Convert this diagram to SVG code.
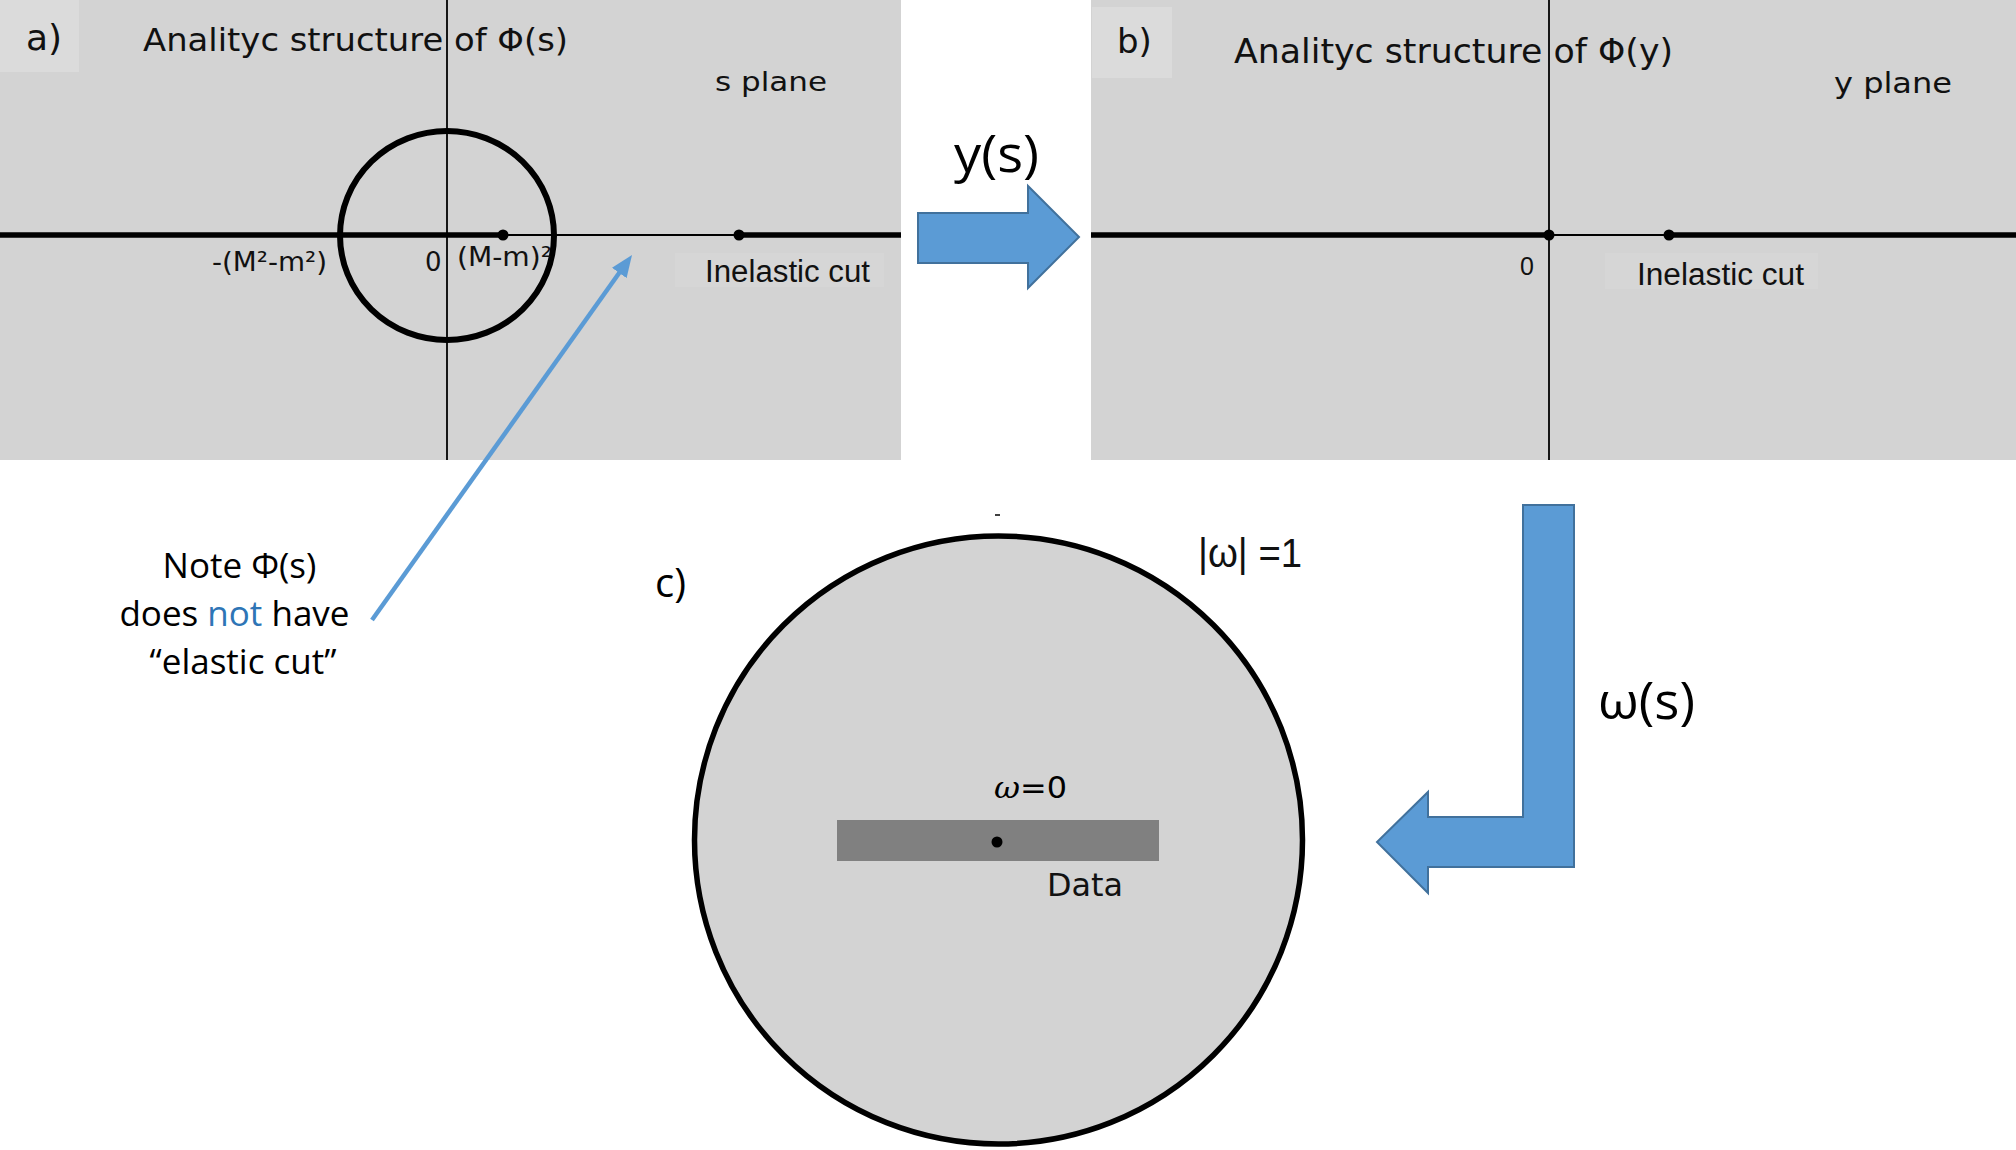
<svg xmlns="http://www.w3.org/2000/svg" width="2016" height="1150" viewBox="0 0 2016 1150">
<defs>
<style>
.panel{fill:#d3d3d3}
.lbox{fill:#dbdbdb}
.hl{fill:#d6d6d6}
.thin{stroke:#000;stroke-width:1.8;fill:none}
.thick{stroke:#000;stroke-width:5.5;fill:none}
.dot{fill:#000}
.dv{font-family:"DejaVu Sans",sans-serif;fill:#111}
.ar{font-family:"Liberation Sans",Arial,sans-serif;fill:#111}
.os{font-family:"Open Sans","Liberation Sans",sans-serif;fill:#000}
.block{fill:#5b9bd5;stroke:#41719c;stroke-width:2}
</style>
<marker id="bluehead" markerUnits="userSpaceOnUse" markerWidth="22" markerHeight="18" viewBox="0 0 22 18" refX="2" refY="9" orient="auto">
<path d="M0,0 L22,9 L0,18 z" fill="#5b9bd5"/>
</marker>
</defs>
<rect width="2016" height="1150" fill="#fff"/>

<g id="panel-a">
<rect class="panel" x="0" y="0" width="901" height="460"/>
<rect class="lbox" x="0" y="0" width="79" height="72"/>
<rect class="hl" x="675" y="253" width="209" height="34"/>
<text class="dv" x="26" y="50" font-size="36">a)</text>
<text class="dv" x="143" y="51" font-size="32" textLength="425" lengthAdjust="spacingAndGlyphs">Analityc structure of Φ(s)</text>
<text class="dv" x="715" y="91" font-size="27" textLength="112" lengthAdjust="spacingAndGlyphs">s plane</text>
<line class="thin" x1="447" y1="0" x2="447" y2="460"/>
<line class="thick" x1="0" y1="235" x2="503" y2="235"/>
<line class="thin" x1="503" y1="235" x2="739" y2="235"/>
<line class="thick" x1="739" y1="235" x2="901" y2="235"/>
<ellipse cx="447" cy="235.5" rx="107" ry="104.5" fill="none" stroke="#000" stroke-width="6"/>
<circle class="dot" cx="503" cy="235" r="5.5"/>
<circle class="dot" cx="739" cy="235" r="5.5"/>
<text class="dv" x="212" y="271" font-size="26" textLength="115" lengthAdjust="spacingAndGlyphs">-(M²-m²)</text>
<text class="dv" x="425" y="271" font-size="26">0</text>
<text class="dv" x="457" y="266" font-size="26" textLength="95" lengthAdjust="spacingAndGlyphs">(M-m)²</text>
<text class="ar" x="705" y="282" font-size="31" textLength="165" lengthAdjust="spacingAndGlyphs">Inelastic cut</text>
</g>

<g id="panel-b">
<rect class="panel" x="1091" y="0" width="925" height="460"/>
<rect class="lbox" x="1092" y="7" width="80" height="71"/>
<rect class="hl" x="1605" y="253" width="213" height="36"/>
<text class="dv" x="1117" y="53" font-size="34">b)</text>
<text class="dv" x="1234" y="63" font-size="33" textLength="439" lengthAdjust="spacingAndGlyphs">Analityc structure of Φ(y)</text>
<text class="dv" x="1834" y="93" font-size="29" textLength="118" lengthAdjust="spacingAndGlyphs">y plane</text>
<line class="thin" x1="1549" y1="0" x2="1549" y2="460"/>
<line class="thick" x1="1091" y1="235" x2="1549" y2="235"/>
<line class="thin" x1="1549" y1="235" x2="1669" y2="235"/>
<line class="thick" x1="1669" y1="235" x2="2016" y2="235"/>
<circle class="dot" cx="1549" cy="235" r="5.5"/>
<circle class="dot" cx="1669" cy="235" r="5.5"/>
<text class="ar" x="1520" y="275" font-size="25">0</text>
<text class="ar" x="1637" y="285" font-size="31" textLength="167" lengthAdjust="spacingAndGlyphs">Inelastic cut</text>
</g>

<g id="panel-c">
<line x1="995" y1="515" x2="1000" y2="515" stroke="#000" stroke-width="1.5"/>
<circle cx="998.5" cy="840" r="304" fill="#d3d3d3" stroke="#000" stroke-width="5.5"/>
<rect x="837" y="820" width="322" height="41" fill="#808080"/>
<circle class="dot" cx="997" cy="842" r="5.5"/>
<text x="994" y="798" font-size="30" textLength="73" lengthAdjust="spacingAndGlyphs" fill="#000"><tspan font-family="DejaVu Serif,serif" font-style="italic">ω</tspan><tspan font-family="DejaVu Sans,sans-serif">=0</tspan></text>
<text class="dv" x="1047" y="896" font-size="32" fill="#000" textLength="76" lengthAdjust="spacingAndGlyphs">Data</text>
<text class="ar" x="1198" y="567" font-size="41" fill="#000" textLength="104" lengthAdjust="spacingAndGlyphs">|ω| =1</text>
<text class="os" x="655" y="597" font-size="40">c)</text>
</g>

<g id="note">
<text class="os" font-size="35" text-anchor="middle">
<tspan x="244" y="578">Note Φ(s)</tspan>
<tspan x="239" y="626">does <tspan fill="#2e75b6">not</tspan> have</tspan>
<tspan x="243" y="674">“elastic cut”</tspan>
</text>
</g>

<g id="connectors">
<line x1="372" y1="620" x2="620.4" y2="271.3" stroke="#5b9bd5" stroke-width="4.5" marker-end="url(#bluehead)"/>
<g id="arrow-ys">
<polygon class="block" points="918,213 1028,213 1028,186 1079,237 1028,288 1028,263 918,263"/>
<text class="os" x="954" y="172" font-size="52" textLength="85" lengthAdjust="spacingAndGlyphs">y(s)</text>
</g>
<g id="arrow-ws">
<polygon class="block" points="1523,505 1574,505 1574,867 1428,867 1428,893 1377,842 1428,792 1428,817 1523,817"/>
<text class="os" x="1598" y="719" font-size="52" textLength="97" lengthAdjust="spacingAndGlyphs">ω(s)</text>
</g>
</g>
</svg>
